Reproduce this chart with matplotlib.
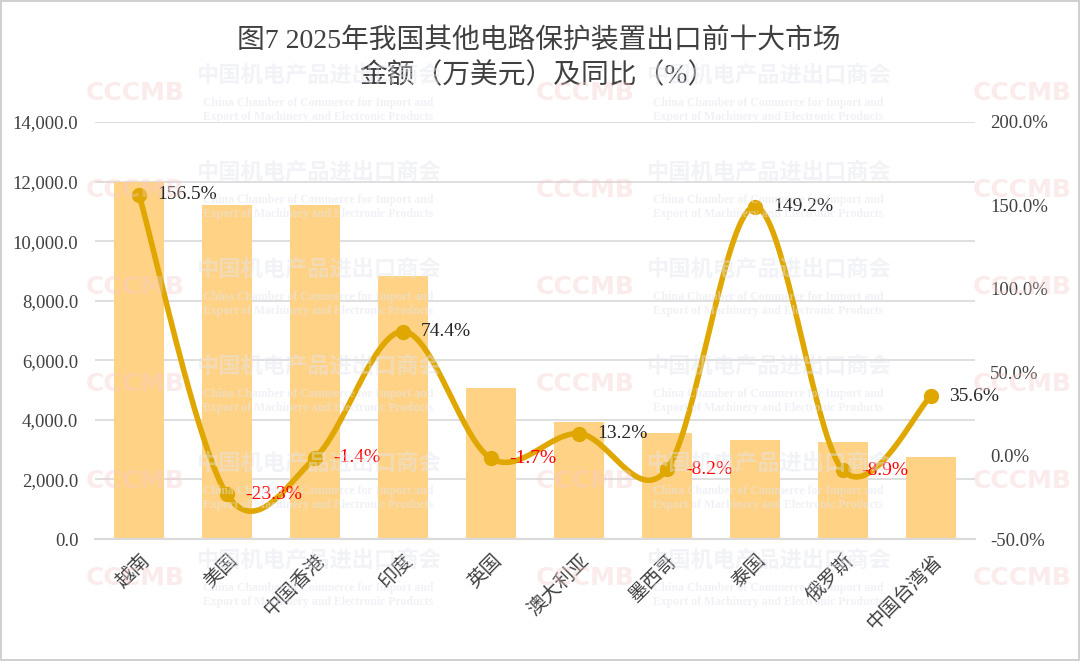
import matplotlib
matplotlib.use("Agg")
import matplotlib.pyplot as plt
import numpy as np

plt.rcParams['font.family'] = ['Liberation Serif', 'Noto Sans CJK SC', 'DejaVu Sans']

categories = ['越南', '美国', '中国香港', '印度', '英国', '澳大利亚', '墨西哥', '泰国', '俄罗斯', '中国台湾省']
amounts = [12000, 11230, 11210, 8830, 5080, 3930, 3550, 3320, 3270, 2760]
growth = [156.5, -23.3, -1.4, 74.4, -1.7, 13.2, -8.2, 149.2, -8.9, 35.6]
title_lines = ['图7 2025年我国其他电路保护装置出口前十大市场', '金额（万美元）及同比（%）']

BAR = '#FFD285'
LINE = '#DFA700'
TXT = '#404040'

W, H = 1080, 661
fig = plt.figure(figsize=(W / 100, H / 100), dpi=100)
fig.patch.set_facecolor('white')
fig.patch.set_edgecolor('#d0d0d0')
fig.patch.set_linewidth(1.5)

ax = fig.add_axes([95 / W, 1 - 539 / H, 880 / W, 417 / H])
ax.set_facecolor('none')
x = np.arange(len(categories))
ax.bar(x, amounts, width=0.56, color=BAR, zorder=2)
ax.set_xlim(-0.5, len(categories) - 0.5)
ax.set_ylim(0, 14000)
ax.set_yticks(np.arange(0, 14001, 2000))
ax.set_yticklabels([f'{v:,.1f}' for v in np.arange(0, 14001, 2000)], fontsize=13.5, color=TXT)
ax.yaxis.grid(True, color='#d9d9d9', linewidth=1.2, zorder=0)
ax.set_axisbelow(True)
for s in ['top', 'right', 'left']:
    ax.spines[s].set_visible(False)
ax.spines['bottom'].set_color('#d9d9d9')
ax.spines['bottom'].set_linewidth(1.5)
ax.tick_params(axis='both', length=0)
ax.tick_params(axis='y', pad=12)
ax.set_xticks(x)
ax.set_xticklabels(categories, rotation=45, ha='right', va='top', rotation_mode='anchor',
                   fontsize=14, color=TXT, family=['Noto Sans CJK SC'])
ax.tick_params(axis='x', pad=8)

ax2 = ax.twinx()
ax2.set_ylim(-50, 200)
ax2.set_yticks(np.arange(-50, 201, 50))
ax2.set_yticklabels([f'{v:.1f}%' for v in np.arange(-50, 201, 50)], fontsize=13.5, color=TXT)
for s in ['top', 'right', 'left', 'bottom']:
    ax2.spines[s].set_visible(False)
ax2.tick_params(axis='y', length=0, pad=11)

# Excel-style smooth line (Catmull-Rom bezier in display-proportional space)
sx = 88.0          # px per category
sy = 417.0 / 250   # px per percent
P = np.column_stack([x * sx, np.array(growth) * sy])
n = len(P)
curve = []
for i in range(n - 1):
    p0 = P[max(i - 1, 0)]
    p1 = P[i]
    p2 = P[i + 1]
    p3 = P[min(i + 2, n - 1)]
    c1 = p1 + (p2 - p0) / 6.0
    c2 = p2 - (p3 - p1) / 6.0
    t = np.linspace(0, 1, 40)[:, None]
    seg = (1 - t) ** 3 * p1 + 3 * (1 - t) ** 2 * t * c1 + 3 * (1 - t) * t ** 2 * c2 + t ** 3 * p2
    curve.append(seg)
curve = np.vstack(curve)
ax2.plot(curve[:, 0] / sx, curve[:, 1] / sy, color=LINE, linewidth=4, zorder=3, solid_capstyle='round')
ax2.plot(x, growth, 'o', color=LINE, markersize=10, zorder=4)

for xi, g in zip(x, growth):
    ax2.annotate(f'{g:.1f}%', (xi, g), xytext=(13, 0), textcoords='offset points',
                 ha='left', va='center', fontsize=14,
                 color=('#FF0000' if g < 0 else '#262626'), zorder=5)

fig.text(539 / W, 1 - 42 / H, title_lines[0], ha='center', va='center', fontsize=20, color=TXT)
fig.text(537 / W, 1 - 76 / H, title_lines[1], ha='center', va='center', fontsize=20, color=TXT)

# faint watermark tiles (only those fully inside the picture)
rows = [75, 172, 269, 366, 463, 560]
for r in rows:
    for cx in (318, 768):
        fig.text(cx / W, 1 - r / H, '中国机电产品进出口商会', ha='center', va='center', fontsize=16,
                 color='#e3e5ee', alpha=0.45, family=['Noto Sans CJK SC'], fontweight='bold', zorder=10)
        fig.text(cx / W, 1 - (r + 28) / H, 'China Chamber of Commerce for Import and', ha='center',
                 va='center', fontsize=8.5, color='#e3e5ee', alpha=0.5, fontweight='bold', zorder=10)
        fig.text(cx / W, 1 - (r + 42) / H, 'Export of Machinery and Electronic Products', ha='center',
                 va='center', fontsize=8.5, color='#e3e5ee', alpha=0.5, fontweight='bold', zorder=10)
    for cx in (135, 585, 1022):
        fig.text(cx / W, 1 - (r + 18) / H, 'CCCMB', ha='center', va='center', fontsize=18,
                 color='#f5cccc', alpha=0.38, family=['DejaVu Sans'], fontweight='bold', zorder=10)

fig.savefig('out.png', dpi=100, facecolor=fig.get_facecolor(), edgecolor=fig.get_edgecolor())
